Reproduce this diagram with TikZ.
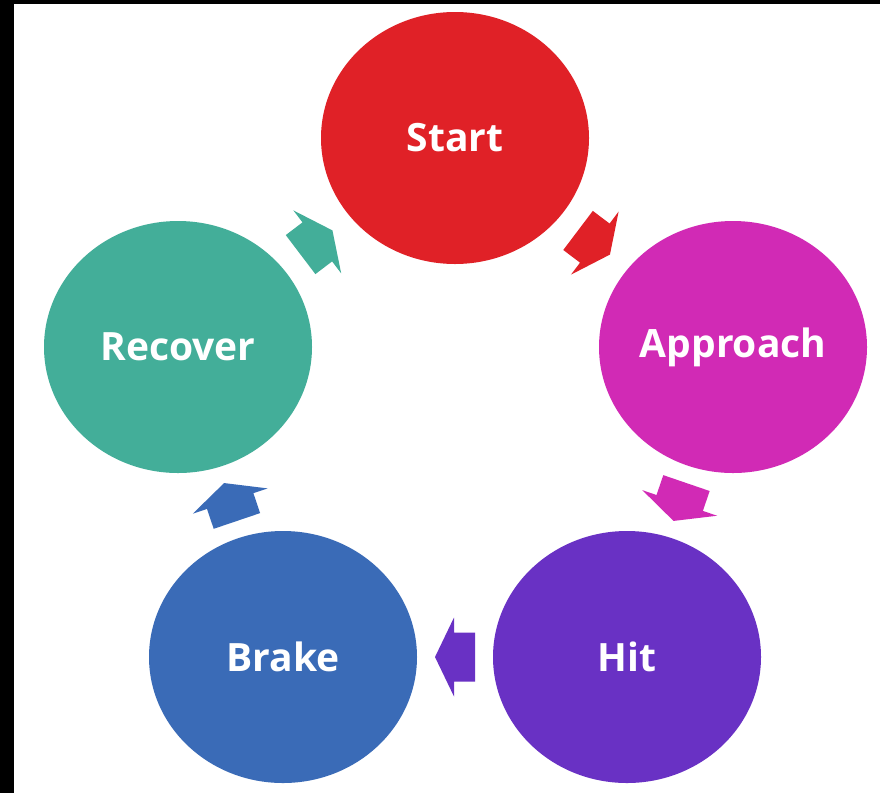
\documentclass[tikz,border=0pt]{standalone}
\usepackage{fontspec}
\setmainfont{Open Sans}
\usetikzlibrary{shapes.geometric,calc}
\definecolor{cstart}{HTML}{E02127}
\definecolor{capproach}{HTML}{D12AB5}
\definecolor{chit}{HTML}{6931C4}
\definecolor{cbrake}{HTML}{3A6BB7}
\definecolor{crecover}{HTML}{43AE99}
\tikzset{
  stage/.style={ellipse, minimum width=268pt, minimum height=252pt, inner sep=0pt,
    text=white, font=\fontsize{39}{44}\selectfont\bfseries}
}
\newcommand{\blockarr}[4]{%
  \begin{scope}[shift={($(#1.center)!0.5!(#2.center)$)}, rotate=#3]
    \fill[#4] (-20pt,24.5pt) -- (1pt,24.5pt) -- (1pt,39.5pt) -- (20pt,0pt) -- (1pt,-39.5pt) -- (1pt,-24.5pt) -- (-20pt,-24.5pt) -- cycle;
  \end{scope}}
\begin{document}
\begin{tikzpicture}[x=1pt,y=-1pt]
\fill[white] (0,0) rectangle (880,793);
\useasboundingbox (0,0) rectangle (880,793);
\fill[black] (0,0) rectangle (880,4);
\fill[black] (0,0) rectangle (14,793);
\node[stage, fill=cstart] (start) at (455,138) {Start};
\node[stage, fill=capproach] (approach) at (733,347) {Approach};
\node[stage, fill=chit] (hit) at (627,657) {Hit};
\node[stage, fill=cbrake] (brake) at (283,657) {Brake};
\node[stage, fill=crecover] (recover) at (178,347) {Recover};
\blockarr{start}{approach}{-37.07}{cstart}
\blockarr{approach}{hit}{-108.9}{capproach}
\blockarr{hit}{brake}{180}{chit}
\blockarr{brake}{recover}{108.7}{cbrake}
\blockarr{recover}{start}{37.2}{crecover}
\end{tikzpicture}
\end{document}
